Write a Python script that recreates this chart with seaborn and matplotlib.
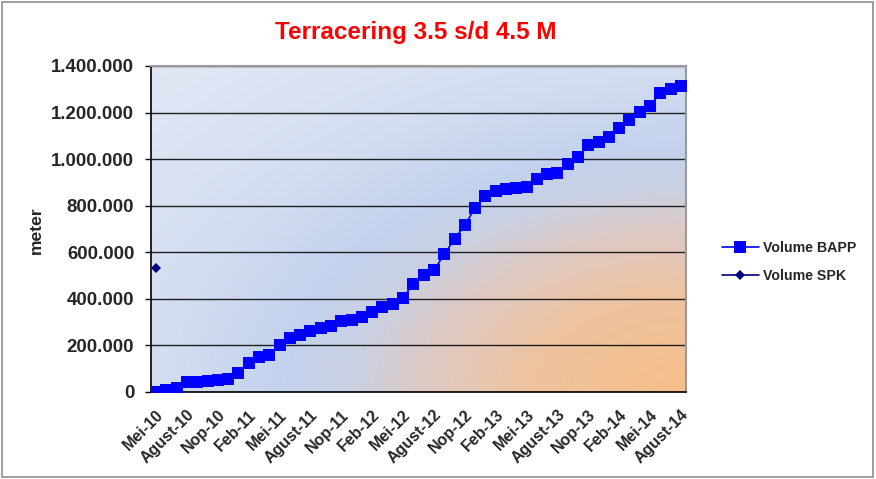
import numpy as np
import pandas as pd
import matplotlib
matplotlib.use("Agg")
import matplotlib.pyplot as plt
import seaborn as sns
from matplotlib.colors import LinearSegmentedColormap
from matplotlib.patches import Rectangle
from matplotlib.ticker import FuncFormatter

# ---------------- data ----------------
month_names = ["Jan", "Feb", "Mar", "Apr", "Mei", "Jun", "Jul", "Agust", "Sep", "Okt", "Nop", "Des"]
start_year, start_month, n_months = 2010, 5, 52
categories = []
for i in range(n_months):
    m = (start_month - 1 + i) % 12
    y = start_year + (start_month - 1 + i) // 12
    categories.append(f"{month_names[m]}-{str(y)[2:]}")

volume_bapp = [0, 10000, 17000, 41000, 43000, 46000, 50000, 57000, 81000, 124000,
               150000, 161000, 200000, 230000, 246000, 260000, 274000, 284000, 307000, 311000,
               324000, 343000, 363000, 380000, 404000, 465000, 503000, 523000, 591000, 657000,
               716000, 791000, 841000, 863000, 870000, 874000, 881000, 916000, 936000, 941000,
               980000, 1009000, 1059000, 1074000, 1096000, 1134000, 1170000, 1201000, 1229000, 1284000,
               1303000, 1316000]
volume_spk = [533000]

df_bapp = pd.DataFrame({"pos": np.arange(len(categories)), "val": volume_bapp})
df_spk = pd.DataFrame({"pos": np.arange(len(volume_spk)), "val": volume_spk})

# ---------------- style ----------------
sns.set_theme(style="white")
plt.rcParams["font.family"] = ["Liberation Sans", "DejaVu Sans"]

fig = plt.figure(figsize=(8.76, 4.79), dpi=100)
ax = fig.add_axes([151 / 876, 1 - 392 / 479, (686 - 151) / 876, (392 - 66) / 479])

# elliptical radial gradient from bottom-right corner
cmap = LinearSegmentedColormap.from_list(
    "bg", [(0.0, "#f7be8a"), (0.2, "#efc39e"), (0.34, "#dfc9c2"),
           (0.44, "#cad0e2"), (0.53, "#c3d2ee"), (0.71, "#d5def1"), (1.0, "#e1e7f4")])
yy, xx = np.mgrid[0:1:240j, 0:1:360j]   # yy=0 top row, yy=1 bottom row
r = np.sqrt((1 - xx) ** 2 + (1 - yy) ** 2) / np.sqrt(2)
ax.imshow(r, cmap=cmap, vmin=0, vmax=1, extent=[0, 1, 0, 1], origin="upper",
          transform=ax.transAxes, aspect="auto", zorder=0, interpolation="bilinear")

sns.lineplot(data=df_bapp, x="pos", y="val", ax=ax, color="#0000ff", marker="s",
             markersize=8, markeredgewidth=0, linewidth=1.2, label="Volume BAPP", zorder=3)
sns.lineplot(data=df_spk, x="pos", y="val", ax=ax, color="#000080", marker="D",
             markersize=5, markeredgewidth=0, linewidth=1.2, label="Volume SPK", zorder=3)

ax.set_xlim(-0.5, len(categories) - 0.5)
ax.set_ylim(0, 1400000)
ax.set_yticks(np.arange(0, 1400001, 200000))
ax.yaxis.set_major_formatter(FuncFormatter(lambda v, p: f"{int(v):,}".replace(",", ".")))
ax.grid(axis="y", color="#202020", linewidth=1.0)
for gl in ax.get_ygridlines():
    gl.set_zorder(1)

tick_pos = list(range(0, len(categories), 3))
ax.set_xticks(tick_pos)
ax.set_xticklabels([categories[i] for i in tick_pos], rotation=45, ha="right",
                   rotation_mode="anchor", fontsize=11.5, fontweight="bold")
for lab in ax.get_yticklabels():
    lab.set_fontsize(13.4)
    lab.set_fontweight("bold")
ax.tick_params(axis="y", left=True, length=4, width=1, color="black", pad=8)
ax.tick_params(axis="x", bottom=False, pad=5)

ax.set_xlabel("")
ax.set_ylabel("")
fig.text(36 / 876, 1 - 230 / 479, "meter", rotation=90, fontsize=12.6, fontweight="bold",
         ha="center", va="center")

for s in ["top", "right"]:
    ax.spines[s].set_color("#9a9a9a")
    ax.spines[s].set_linewidth(1.5)
ax.spines["left"].set_color("black")
ax.spines["left"].set_linewidth(1.2)
ax.spines["bottom"].set_color("black")
ax.spines["bottom"].set_linewidth(1.2)

fig.text(416 / 876, 1 - 32 / 479, "Terracering 3.5 s/d 4.5 M", color="#ff0000",
         fontsize=17.5, fontweight="bold", ha="center", va="center")

leg = ax.legend(loc="center left", bbox_to_anchor=(709 / 876, 1 - 262 / 479),
                bbox_transform=fig.transFigure, frameon=False,
                handlelength=2.6, handletextpad=0.3, labelspacing=0.95,
                prop={"weight": "bold", "size": 10.2})

fig.patches.append(Rectangle((0.002, 0.004), 0.995, 0.992, transform=fig.transFigure,
                             fill=False, edgecolor="#8c8c8c", linewidth=1.2))

fig.savefig("out.png", dpi=100)
